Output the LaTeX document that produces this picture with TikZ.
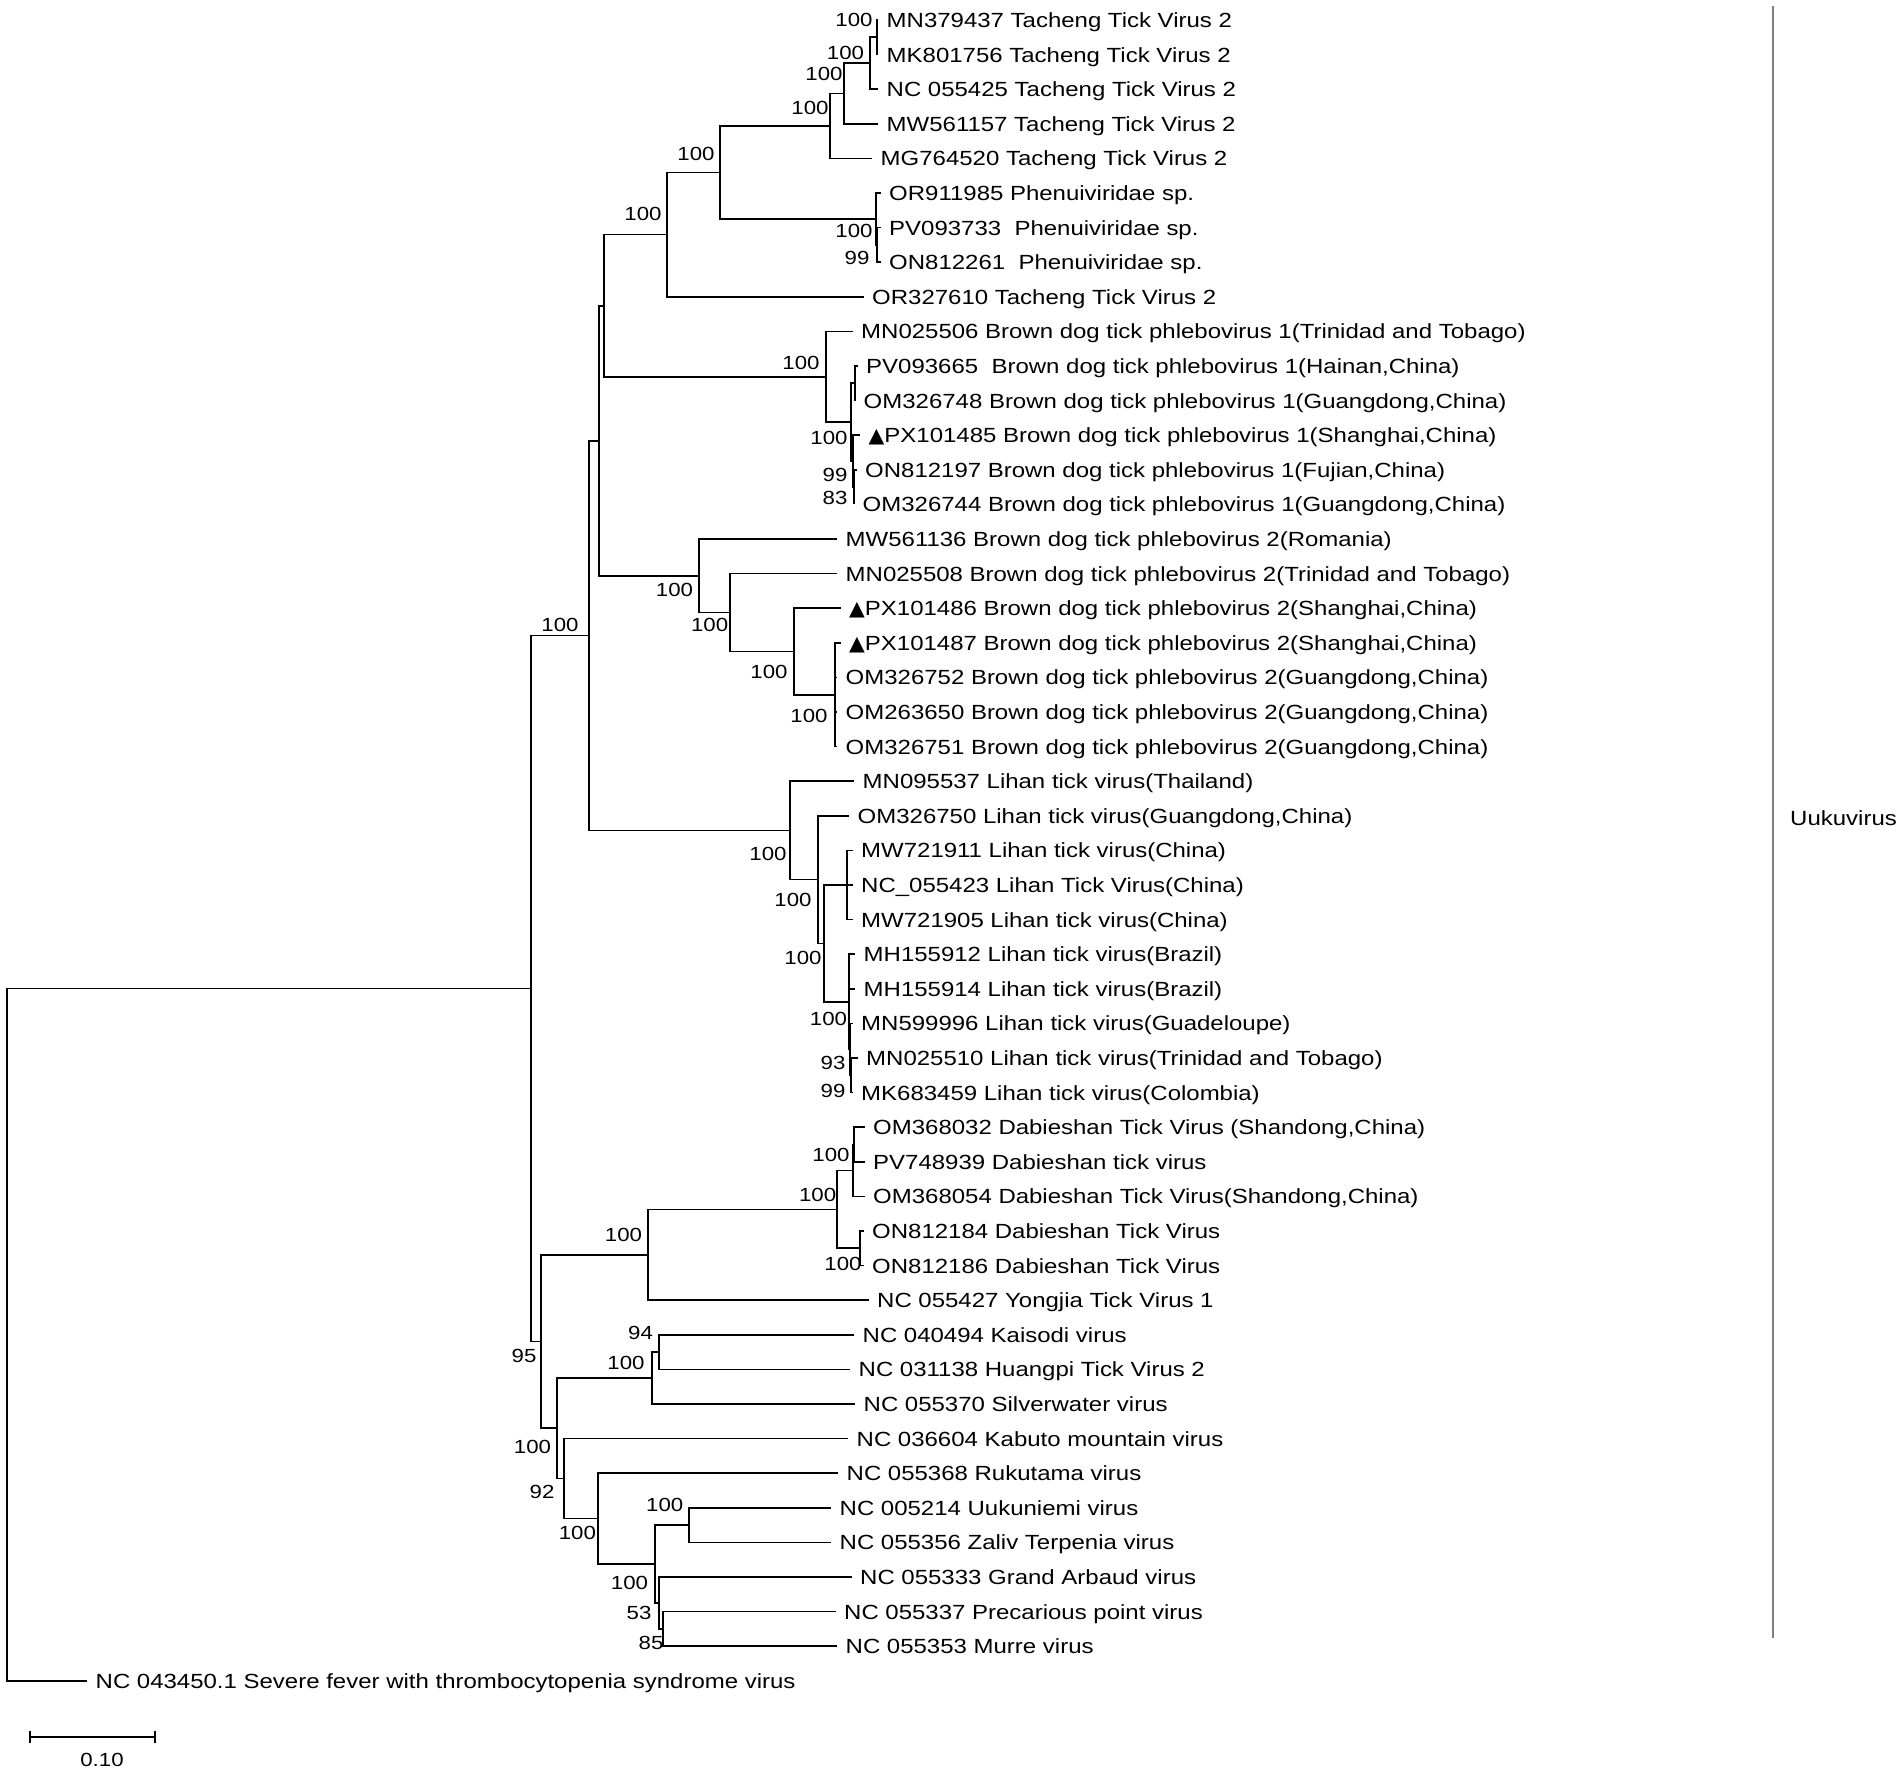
\documentclass[tikz,border=0pt]{standalone}
\usepackage{fontspec}
\setmainfont{Liberation Sans}[FakeStretch=1.17]
\newfontfamily\symfont{DejaVu Sans}
\newcommand{\tri}{{\symfont ▲}}
\tikzset{
  branch/.style={line width=1.7pt},
  leaf/.style={anchor=west,inner xsep=8.5pt,inner ysep=0pt,text depth=0pt,font=\fontsize{20.5}{24}\selectfont},
  boot/.style={inner sep=0pt,text depth=0pt,font=\fontsize{19}{22}\selectfont},
}
\begin{document}
\begin{tikzpicture}[x=1pt,y=-1pt]
\useasboundingbox (0,0) rectangle (1902,1773);

\node[leaf](l0) at (878,20) {MN379437 Tacheng Tick Virus 2};
\node[leaf](l1) at (878,54.6) {MK801756 Tacheng Tick Virus 2};
\node[leaf](l2) at (878,89.2) {NC 055425 Tacheng Tick Virus 2};
\node[leaf](l3) at (878,123.8) {MW561157 Tacheng Tick Virus 2};
\node[leaf](l4) at (872,158.4) {MG764520 Tacheng Tick Virus 2};
\node[leaf](l5) at (880.5,193) {OR911985 Phenuiviridae sp.};
\node[leaf](l6) at (880.5,227.6) {PV093733~ Phenuiviridae sp.};
\node[leaf](l7) at (880.5,262.2) {ON812261~ Phenuiviridae sp.};
\node[leaf](l8) at (863.5,296.8) {OR327610 Tacheng Tick Virus 2};
\node[leaf](l9) at (852.5,331.4) {MN025506 Brown dog tick phlebovirus 1(Trinidad and Tobago)};
\node[leaf](l10) at (857.5,366) {PV093665~ Brown dog tick phlebovirus 1(Hainan,China)};
\node[leaf](l11) at (855,400.6) {OM326748 Brown dog tick phlebovirus 1(Guangdong,China)};
\node[leaf](l12) at (860,435.2) {\tri PX101485 Brown dog tick phlebovirus 1(Shanghai,China)};
\node[leaf](l13) at (856.5,469.8) {ON812197 Brown dog tick phlebovirus 1(Fujian,China)};
\node[leaf](l14) at (854,504.4) {OM326744 Brown dog tick phlebovirus 1(Guangdong,China)};
\node[leaf](l15) at (837,539) {MW561136 Brown dog tick phlebovirus 2(Romania)};
\node[leaf](l16) at (837,573.6) {MN025508 Brown dog tick phlebovirus 2(Trinidad and Tobago)};
\node[leaf](l17) at (840.5,608.2) {\tri PX101486 Brown dog tick phlebovirus 2(Shanghai,China)};
\node[leaf](l18) at (840.5,642.8) {\tri PX101487 Brown dog tick phlebovirus 2(Shanghai,China)};
\node[leaf](l19) at (837,677.4) {OM326752 Brown dog tick phlebovirus 2(Guangdong,China)};
\node[leaf](l20) at (837,712) {OM263650 Brown dog tick phlebovirus 2(Guangdong,China)};
\node[leaf](l21) at (837,746.6) {OM326751 Brown dog tick phlebovirus 2(Guangdong,China)};
\node[leaf](l22) at (854,781.2) {MN095537 Lihan tick virus(Thailand)};
\node[leaf](l23) at (849,815.8) {OM326750 Lihan tick virus(Guangdong,China)};
\node[leaf](l24) at (852.5,850.4) {MW721911 Lihan tick virus(China)};
\node[leaf](l25) at (852.5,885) {NC\_055423 Lihan Tick Virus(China)};
\node[leaf](l26) at (852.5,919.6) {MW721905 Lihan tick virus(China)};
\node[leaf](l27) at (855,954.2) {MH155912 Lihan tick virus(Brazil)};
\node[leaf](l28) at (855,988.8) {MH155914 Lihan tick virus(Brazil)};
\node[leaf](l29) at (852.5,1023.4) {MN599996 Lihan tick virus(Guadeloupe)};
\node[leaf](l30) at (857.5,1058) {MN025510 Lihan tick virus(Trinidad and Tobago)};
\node[leaf](l31) at (852.5,1092.6) {MK683459 Lihan tick virus(Colombia)};
\node[leaf](l32) at (864.5,1127.2) {OM368032 Dabieshan Tick Virus (Shandong,China)};
\node[leaf](l33) at (864.5,1161.8) {PV748939 Dabieshan tick virus};
\node[leaf](l34) at (864.5,1196.4) {OM368054 Dabieshan Tick Virus(Shandong,China)};
\node[leaf](l35) at (863.5,1231) {ON812184 Dabieshan Tick Virus};
\node[leaf](l36) at (863.5,1265.6) {ON812186 Dabieshan Tick Virus};
\node[leaf](l37) at (868.5,1300.2) {NC 055427 Yongjia Tick Virus 1};
\node[leaf](l38) at (854,1334.8) {NC 040494 Kaisodi virus};
\node[leaf](l39) at (850,1369.4) {NC 031138 Huangpi Tick Virus 2};
\node[leaf](l40) at (855,1404) {NC 055370 Silverwater virus};
\node[leaf](l41) at (848,1438.6) {NC 036604 Kabuto mountain virus};
\node[leaf](l42) at (838,1473.2) {NC 055368 Rukutama virus};
\node[leaf](l43) at (831,1507.8) {NC 005214 Uukuniemi virus};
\node[leaf](l44) at (831,1542.4) {NC 055356 Zaliv Terpenia virus};
\node[leaf](l45) at (851.5,1577) {NC 055333 Grand Arbaud virus};
\node[leaf](l46) at (835.5,1611.6) {NC 055337 Precarious point virus};
\node[leaf](l47) at (837,1646.2) {NC 055353 Murre virus};
\node[leaf](l48) at (87,1680.8) {NC 043450.1 Severe fever with thrombocytopenia syndrome virus};

\coordinate (n1) at (877,37.3);
\coordinate (n2) at (870,63.25);
\coordinate (n3) at (844,93.5);
\coordinate (n4) at (830,126);
\coordinate (n5) at (877,244.9);
\coordinate (n6) at (876,219);
\coordinate (n7) at (720,172.5);
\coordinate (n8) at (667,234.6);
\coordinate (n9) at (855,383.3);
\coordinate (n10) at (854,487.1);
\coordinate (n11) at (853,461.2);
\coordinate (n12) at (851,422.2);
\coordinate (n13) at (826,376.8);
\coordinate (n14) at (604,305.7);
\coordinate (n15) at (835,694.7);
\coordinate (n16) at (794,651.5);
\coordinate (n17) at (730,612.5);
\coordinate (n18) at (699,575.8);
\coordinate (n19) at (599,440.7);
\coordinate (n20) at (847,885);
\coordinate (n21) at (851,1075.3);
\coordinate (n22) at (850,1049.3);
\coordinate (n23) at (849,1001.8);
\coordinate (n24) at (824,943.4);
\coordinate (n25) at (818,879.6);
\coordinate (n26) at (790,830.4);
\coordinate (n27) at (589,635.5);
\coordinate (n28) at (854,1144.5);
\coordinate (n29) at (853,1170.5);
\coordinate (n30) at (860,1248.3);
\coordinate (n31) at (837,1209.4);
\coordinate (n32) at (648,1254.8);
\coordinate (n33) at (659,1352.1);
\coordinate (n34) at (652,1378);
\coordinate (n35) at (689,1525.1);
\coordinate (n36) at (663,1628.9);
\coordinate (n37) at (659,1603);
\coordinate (n38) at (655,1564);
\coordinate (n39) at (598,1518.6);
\coordinate (n40) at (564,1478.6);
\coordinate (n41) at (557,1428.3);
\coordinate (n42) at (541,1341.5);
\coordinate (n43) at (531,988.5);
\coordinate (n44) at (7,1334.7);

\draw[branch] (n1) |- (l0.west) (n1) |- (l1.west);
\draw[branch] (n2) |- (n1) (n2) |- (l2.west);
\draw[branch] (n3) |- (n2) (n3) |- (l3.west);
\draw[branch] (n4) |- (n3) (n4) |- (l4.west);
\draw[branch] (n5) |- (l6.west) (n5) |- (l7.west);
\draw[branch] (n6) |- (l5.west) (n6) |- (n5);
\draw[branch] (n7) |- (n4) (n7) |- (n6);
\draw[branch] (n8) |- (n7) (n8) |- (l8.west);
\draw[branch] (n9) |- (l10.west) (n9) |- (l11.west);
\draw[branch] (n10) |- (l13.west) (n10) |- (l14.west);
\draw[branch] (n11) |- (l12.west) (n11) |- (n10);
\draw[branch] (n12) |- (n9) (n12) |- (n11);
\draw[branch] (n13) |- (l9.west) (n13) |- (n12);
\draw[branch] (n14) |- (n8) (n14) |- (n13);
\draw[branch] (n15) |- (l18.west) (n15) |- (l19.west) (n15) |- (l20.west) (n15) |- (l21.west);
\draw[branch] (n16) |- (l17.west) (n16) |- (n15);
\draw[branch] (n17) |- (l16.west) (n17) |- (n16);
\draw[branch] (n18) |- (l15.west) (n18) |- (n17);
\draw[branch] (n19) |- (n14) (n19) |- (n18);
\draw[branch] (n20) |- (l24.west) (n20) |- (l25.west) (n20) |- (l26.west);
\draw[branch] (n21) |- (l30.west) (n21) |- (l31.west);
\draw[branch] (n22) |- (l29.west) (n22) |- (n21);
\draw[branch] (n23) |- (l27.west) (n23) |- (l28.west) (n23) |- (n22);
\draw[branch] (n24) |- (n20) (n24) |- (n23);
\draw[branch] (n25) |- (l23.west) (n25) |- (n24);
\draw[branch] (n26) |- (l22.west) (n26) |- (n25);
\draw[branch] (n27) |- (n19) (n27) |- (n26);
\draw[branch] (n28) |- (l32.west) (n28) |- (l33.west);
\draw[branch] (n29) |- (n28) (n29) |- (l34.west);
\draw[branch] (n30) |- (l35.west) (n30) |- (l36.west);
\draw[branch] (n31) |- (n29) (n31) |- (n30);
\draw[branch] (n32) |- (n31) (n32) |- (l37.west);
\draw[branch] (n33) |- (l38.west) (n33) |- (l39.west);
\draw[branch] (n34) |- (n33) (n34) |- (l40.west);
\draw[branch] (n35) |- (l43.west) (n35) |- (l44.west);
\draw[branch] (n36) |- (l46.west) (n36) |- (l47.west);
\draw[branch] (n37) |- (l45.west) (n37) |- (n36);
\draw[branch] (n38) |- (n35) (n38) |- (n37);
\draw[branch] (n39) |- (l42.west) (n39) |- (n38);
\draw[branch] (n40) |- (l41.west) (n40) |- (n39);
\draw[branch] (n41) |- (n34) (n41) |- (n40);
\draw[branch] (n42) |- (n32) (n42) |- (n41);
\draw[branch] (n43) |- (n27) (n43) |- (n42);
\draw[branch] (n44) |- (n43) (n44) |- (l48.west);

\node[boot](b1) at (854,20) {100};
\node[boot](b2) at (845.5,53) {100};
\node[boot](b3) at (824,74) {100};
\node[boot](b4) at (810,108) {100};
\node[boot](b5) at (696,154) {100};
\node[boot](b6) at (643,214) {100};
\node[boot](b7) at (854,231) {100};
\node[boot](b8) at (857,258) {99};
\node[boot](b9) at (801,363) {100};
\node[boot](b10) at (829,438) {100};
\node[boot](b11) at (835,475) {99};
\node[boot](b12) at (835,498) {83};
\node[boot](b13) at (560,625) {100};
\node[boot](b14) at (674.5,589.5) {100};
\node[boot](b15) at (709.6,625) {100};
\node[boot](b16) at (769,672) {100};
\node[boot](b17) at (809,716) {100};
\node[boot](b18) at (768,854) {100};
\node[boot](b19) at (793,900) {100};
\node[boot](b20) at (803,958) {100};
\node[boot](b21) at (828.5,1019) {100};
\node[boot](b22) at (833,1063) {93};
\node[boot](b23) at (833,1091) {99};
\node[boot](b24) at (831,1155) {100};
\node[boot](b25) at (817.6,1195) {100};
\node[boot](b26) at (843,1264) {100};
\node[boot](b27) at (623.5,1235) {100};
\node[boot](b28) at (640.5,1333) {94};
\node[boot](b29) at (626,1363) {100};
\node[boot](b30) at (524,1356) {95};
\node[boot](b31) at (532.5,1447) {100};
\node[boot](b32) at (542,1492) {92};
\node[boot](b33) at (577.4,1533) {100};
\node[boot](b34) at (664.7,1505) {100};
\node[boot](b35) at (629.5,1583) {100};
\node[boot](b36) at (639,1613) {53};
\node[boot](b37) at (651,1643) {85};

\coordinate (g1) at (1773,6);
\coordinate (g2) at (1773,1638);
\draw[gray,line width=1.5pt] (g1) -- (g2);
\node[leaf,inner xsep=0pt](g3) at (1790,818) {Uukuvirus};

\coordinate (s1) at (30,1737);
\coordinate (s2) at (155,1737);
\draw[branch] (s1) -- (s2);
\draw[branch] ([yshift=-6pt]s1) -- ([yshift=6pt]s1);
\draw[branch] ([yshift=-6pt]s2) -- ([yshift=6pt]s2);
\node[boot](s3) at (102,1760) {0.10};

\end{tikzpicture}
\end{document}
